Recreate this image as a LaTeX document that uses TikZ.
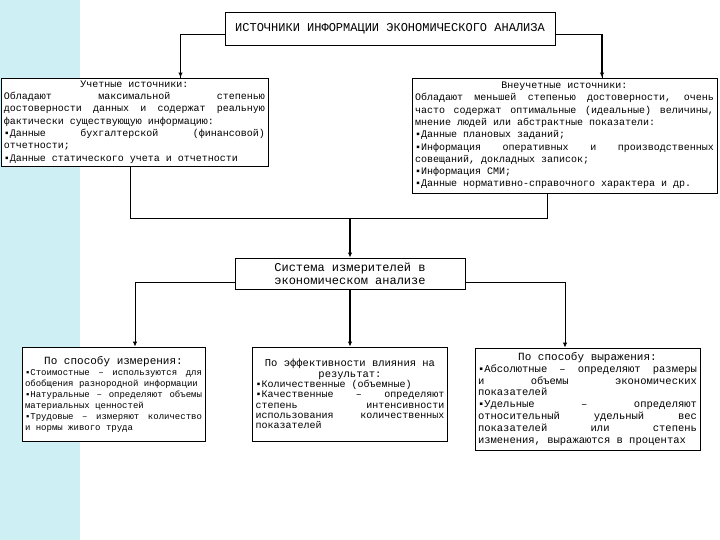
\documentclass[tikz,border=0pt]{standalone}
\usepackage{fontspec}
\setmainfont{Liberation Mono}
\usetikzlibrary{arrows.meta}
\definecolor{stripcyan}{RGB}{206,240,244}
\tolerance=10000
\hyphenpenalty=10000

\begin{document}
\begin{tikzpicture}[x=1pt, y=-1pt,
    box/.style={draw, line width=0.9pt, fill=white, inner xsep=3pt, inner ysep=2pt},
    src/.style={box, align=justify, font=\fontsize{10}{12.3}\selectfont},
    kind/.style={box, align=justify},
    wire/.style={line width=0.9pt},
    feed/.style={line width=1.6pt, -{Latex[length=5pt,width=4.5pt]}},
    tip/.style={line width=0.9pt, -{Latex[length=5pt,width=4.5pt]}}]
    \useasboundingbox (0,0) rectangle (720,540);

    % Left strip
    \fill[stripcyan] (0,0) rectangle (80,540);

    % Title
    \node[box, minimum width=330pt, minimum height=33pt, font=\fontsize{12}{14}\selectfont] (title) at (390,28.5)
        {ИСТОЧНИКИ ИНФОРМАЦИИ ЭКОНОМИЧЕСКОГО АНАЛИЗА};

    % Sources
    \node[src, text width=261pt, minimum height=88pt] (acc) at (134.5,122) {%
        \hfill Учетные источники:\hfill\null\par
        Обладают максимальной степенью\linebreak достоверности данных и содержат реальную\linebreak фактически существующую информацию:\par
        ▪Данные бухгалтерской (финансовой)\linebreak отчетности;\par
        ▪Данные статического учета и отчетности};
    \node[src, text width=299pt, minimum height=115pt] (nonacc) at (564.5,135.5) {%
        \hfill Внеучетные источники:\hfill\null\par
        Обладают меньшей степенью достоверности, очень\linebreak часто содержат оптимальные (идеальные) величины,\linebreak мнение людей или абстрактные показатели:\par
        ▪Данные плановых заданий;\par
        ▪Информация оперативных и производственных\linebreak совещаний, докладных записок;\par
        ▪Информация СМИ;\par
        ▪Данные нормативно-справочного характера и др.};

    % System of measures
    \node[box, minimum width=230pt, minimum height=31pt, align=center, font=\fontsize{12}{13}\selectfont] (sys) at (350,273.5)
        {Система измерителей в\\экономическом анализе};

    % Kinds of measures
    \node[kind, text width=177pt, minimum height=94pt, font=\fontsize{9}{11}\selectfont] (meas) at (113.5,394) {%
        {\fontsize{11}{11}\selectfont\hfill По способу измерения:\hfill\null\par}
        ▪Стоимостные – используются для\linebreak обобщения разнородной информации\par
        ▪Натуральные – определяют объемы\linebreak материальных ценностей\par
        ▪Трудовые – измеряют количество\linebreak и нормы живого труда\par\vspace*{10pt}};
    \node[kind, text width=189pt, minimum height=94pt, font=\fontsize{10}{10.3}\selectfont] (eff) at (350,394) {%
        {\fontsize{10.5}{10.3}\selectfont\hfill По эффективности влияния на\hfill\null\par
        \hfill результат:\hfill\null\par}
        ▪Количественные (объемные)\par
        ▪Качественные – определяют\linebreak степень интенсивности\linebreak использования количественных\linebreak показателей\par\vspace*{9pt}};
    \node[kind, text width=219pt, minimum height=102pt, font=\fontsize{10.5}{11.9}\selectfont] (expr) at (587.5,399) {%
        {\fontsize{11}{11.9}\selectfont\hfill По способу выражения:\hfill\null\par}
        ▪Абсолютные – определяют размеры\linebreak и объемы экономических\linebreak показателей\par
        ▪Удельные – определяют\linebreak относительный удельный вес\linebreak показателей или степень\linebreak изменения, выражаются в процентах\par\vspace*{8pt}};

    % Title to sources
    \coordinate (tw) at ([yshift=-5.5pt]title.west);
    \coordinate (te) at ([yshift=-5.5pt]title.east);
    \coordinate (an) at ([xshift=46pt]acc.north);
    \coordinate (nn) at ([xshift=37.5pt]nonacc.north);
    \draw[wire] (tw) -| (an);
    \draw[wire] (te) -| (nn);
    \draw[feed] (tw -| an) -- (an);
    \draw[feed] (te -| nn) -- (nn);

    % Sources to system
    \coordinate (jn) at ([yshift=39pt]sys.north);
    \draw[wire] ([xshift=-4.5pt]acc.south) |- (jn) -| ([xshift=-17.5pt]nonacc.south);
    \draw[feed] (jn) -- (sys.north);

    % System to kinds
    \draw[tip] ([yshift=-8.5pt]sys.west) -| ([xshift=21.5pt]meas.north);
    \draw[feed] (sys.south) -- (eff.north);
    \draw[tip] ([yshift=-8.5pt]sys.east) -| ([xshift=-22.5pt]expr.north);
\end{tikzpicture}
\end{document}
